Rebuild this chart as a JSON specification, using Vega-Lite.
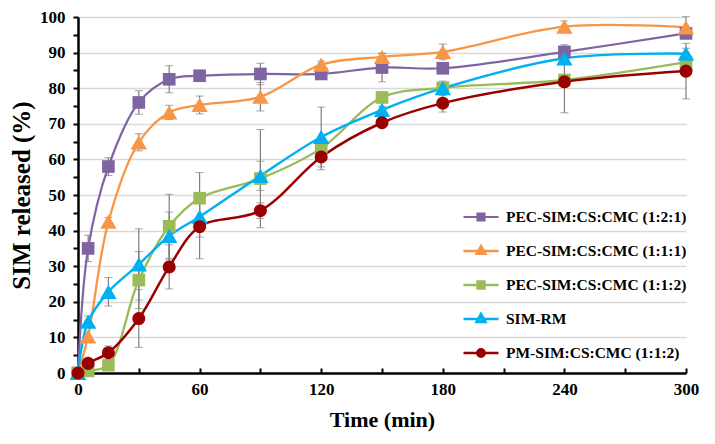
{
  "$schema": "https://vega.github.io/schema/vega-lite/v6.json",
  "width": 608,
  "height": 356,
  "autosize": "none",
  "padding": {"left": 78, "top": 17, "right": 29, "bottom": 71},
  "background": "white",
  "config": {
    "view": {"stroke": null},
    "font": "Liberation Serif",
    "axis": {"labelFont": "Liberation Serif", "titleFont": "Liberation Serif", "labelFontWeight": "bold", "titleFontWeight": "bold", "labelColor": "black", "titleColor": "black", "domainColor": "black", "tickColor": "black"}
  },
  "data": {"values": [
    {"t": 0, "y": 0, "e": 0, "s": "PEC-SIM:CS:CMC (1:2:1)"},
    {"t": 5, "y": 35, "e": 3.7, "s": "PEC-SIM:CS:CMC (1:2:1)"},
    {"t": 15, "y": 58, "e": 2.5, "s": "PEC-SIM:CS:CMC (1:2:1)"},
    {"t": 30, "y": 76, "e": 3.3, "s": "PEC-SIM:CS:CMC (1:2:1)"},
    {"t": 45, "y": 82.5, "e": 3.8, "s": "PEC-SIM:CS:CMC (1:2:1)"},
    {"t": 60, "y": 83.5, "e": 0.8, "s": "PEC-SIM:CS:CMC (1:2:1)"},
    {"t": 90, "y": 84, "e": 3, "s": "PEC-SIM:CS:CMC (1:2:1)"},
    {"t": 120, "y": 84, "e": 1, "s": "PEC-SIM:CS:CMC (1:2:1)"},
    {"t": 150, "y": 85.8, "e": 4, "s": "PEC-SIM:CS:CMC (1:2:1)"},
    {"t": 180, "y": 85.6, "e": 1.5, "s": "PEC-SIM:CS:CMC (1:2:1)"},
    {"t": 240, "y": 90.2, "e": 2, "s": "PEC-SIM:CS:CMC (1:2:1)"},
    {"t": 300, "y": 95.4, "e": 1.5, "s": "PEC-SIM:CS:CMC (1:2:1)"},
    {"t": 0, "y": 0, "e": 0, "s": "PEC-SIM:CS:CMC (1:1:1)"},
    {"t": 5, "y": 10.3, "e": 0, "s": "PEC-SIM:CS:CMC (1:1:1)"},
    {"t": 15, "y": 42.5, "e": 1.2, "s": "PEC-SIM:CS:CMC (1:1:1)"},
    {"t": 30, "y": 64.8, "e": 2.4, "s": "PEC-SIM:CS:CMC (1:1:1)"},
    {"t": 45, "y": 73.2, "e": 2, "s": "PEC-SIM:CS:CMC (1:1:1)"},
    {"t": 60, "y": 75.3, "e": 2.5, "s": "PEC-SIM:CS:CMC (1:1:1)"},
    {"t": 90, "y": 77.6, "e": 4, "s": "PEC-SIM:CS:CMC (1:1:1)"},
    {"t": 120, "y": 86.6, "e": 1, "s": "PEC-SIM:CS:CMC (1:1:1)"},
    {"t": 150, "y": 88.8, "e": 1, "s": "PEC-SIM:CS:CMC (1:1:1)"},
    {"t": 180, "y": 90.2, "e": 2.2, "s": "PEC-SIM:CS:CMC (1:1:1)"},
    {"t": 240, "y": 97.3, "e": 1.6, "s": "PEC-SIM:CS:CMC (1:1:1)"},
    {"t": 300, "y": 97.1, "e": 3, "s": "PEC-SIM:CS:CMC (1:1:1)"},
    {"t": 0, "y": 0, "e": 0, "s": "PEC-SIM:CS:CMC (1:1:2)"},
    {"t": 5, "y": 0.6, "e": 0, "s": "PEC-SIM:CS:CMC (1:1:2)"},
    {"t": 15, "y": 2.2, "e": 1, "s": "PEC-SIM:CS:CMC (1:1:2)"},
    {"t": 30, "y": 26.1, "e": 8, "s": "PEC-SIM:CS:CMC (1:1:2)"},
    {"t": 45, "y": 41.2, "e": 9, "s": "PEC-SIM:CS:CMC (1:1:2)"},
    {"t": 60, "y": 49.1, "e": 7.2, "s": "PEC-SIM:CS:CMC (1:1:2)"},
    {"t": 90, "y": 54.6, "e": 13.8, "s": "PEC-SIM:CS:CMC (1:1:2)"},
    {"t": 120, "y": 63.1, "e": 1, "s": "PEC-SIM:CS:CMC (1:1:2)"},
    {"t": 150, "y": 77.4, "e": 1, "s": "PEC-SIM:CS:CMC (1:1:2)"},
    {"t": 180, "y": 80.1, "e": 1, "s": "PEC-SIM:CS:CMC (1:1:2)"},
    {"t": 240, "y": 82.3, "e": 1, "s": "PEC-SIM:CS:CMC (1:1:2)"},
    {"t": 300, "y": 87.3, "e": 1, "s": "PEC-SIM:CS:CMC (1:1:2)"},
    {"t": 0, "y": 0, "e": 0, "s": "SIM-RM"},
    {"t": 5, "y": 14.4, "e": 1.6, "s": "SIM-RM"},
    {"t": 15, "y": 22.8, "e": 4, "s": "SIM-RM"},
    {"t": 30, "y": 30.5, "e": 10, "s": "SIM-RM"},
    {"t": 45, "y": 38.5, "e": 6.7, "s": "SIM-RM"},
    {"t": 60, "y": 43.9, "e": 5.7, "s": "SIM-RM"},
    {"t": 90, "y": 55.4, "e": 4.1, "s": "SIM-RM"},
    {"t": 120, "y": 66.3, "e": 8.4, "s": "SIM-RM"},
    {"t": 150, "y": 73.9, "e": 1, "s": "SIM-RM"},
    {"t": 180, "y": 80, "e": 2, "s": "SIM-RM"},
    {"t": 240, "y": 88.4, "e": 1.5, "s": "SIM-RM"},
    {"t": 300, "y": 89.7, "e": 1.5, "s": "SIM-RM"},
    {"t": 0, "y": 0, "e": 0, "s": "PM-SIM:CS:CMC (1:1:2)"},
    {"t": 5, "y": 2.7, "e": 0.5, "s": "PM-SIM:CS:CMC (1:1:2)"},
    {"t": 15, "y": 5.7, "e": 1.9, "s": "PM-SIM:CS:CMC (1:1:2)"},
    {"t": 30, "y": 15.3, "e": 8.1, "s": "PM-SIM:CS:CMC (1:1:2)"},
    {"t": 45, "y": 29.8, "e": 6.2, "s": "PM-SIM:CS:CMC (1:1:2)"},
    {"t": 60, "y": 41.1, "e": 9, "s": "PM-SIM:CS:CMC (1:1:2)"},
    {"t": 90, "y": 45.6, "e": 2.2, "s": "PM-SIM:CS:CMC (1:1:2)"},
    {"t": 120, "y": 60.7, "e": 3.6, "s": "PM-SIM:CS:CMC (1:1:2)"},
    {"t": 150, "y": 70.3, "e": 1, "s": "PM-SIM:CS:CMC (1:1:2)"},
    {"t": 180, "y": 75.8, "e": 2.5, "s": "PM-SIM:CS:CMC (1:1:2)"},
    {"t": 240, "y": 81.8, "e": 8.7, "s": "PM-SIM:CS:CMC (1:1:2)"},
    {"t": 300, "y": 84.8, "e": 7.8, "s": "PM-SIM:CS:CMC (1:1:2)"}
  ]},
  "encoding": {
    "x": {
      "field": "t", "type": "quantitative",
      "scale": {"domain": [0, 300], "nice": false},
      "axis": {
        "title": "Time (min)", "titleFontSize": 22, "titlePadding": 12,
        "values": [0, 30, 60, 90, 120, 150, 180, 210, 240, 270, 300],
        "labelExpr": "datum.value % 60 === 0 ? datum.label : ''",
        "labelFontSize": 17, "labelPadding": 13, "tickSize": -5, "tickWidth": 2,
        "domainWidth": 2.5, "grid": false, "labelFlush": false
      }
    },
    "y": {
      "field": "y", "type": "quantitative",
      "scale": {"domain": [0, 100], "nice": false},
      "axis": {
        "title": "SIM released (%)", "titleFontSize": 25, "titlePadding": 5,
        "values": [0, 5, 10, 15, 20, 25, 30, 35, 40, 45, 50, 55, 60, 65, 70, 75, 80, 85, 90, 95, 100],
        "labelExpr": "datum.value % 10 === 0 ? datum.label : ''",
        "labelFontSize": 17, "labelPadding": 8, "tickSize": 5, "tickWidth": 2,
        "domainWidth": 2.5, "grid": true, "gridColor": "#d9d9d9", "gridWidth": 1.5,
        "gridOpacity": {"condition": {"test": "datum.value % 10 === 0 && datum.value > 0", "value": 1}, "value": 0}
      }
    },
    "color": {"field": "s", "type": "nominal",
      "scale": {"domain": ["PEC-SIM:CS:CMC (1:2:1)", "PEC-SIM:CS:CMC (1:1:1)", "PEC-SIM:CS:CMC (1:1:2)", "SIM-RM", "PM-SIM:CS:CMC (1:1:2)"],
                "range": ["#8064a2", "#f79646", "#9bbb59", "#00b0f0", "#990000"]},
      "legend": {
        "title": null, "orient": "none", "legendX": 384, "legendY": 181,
        "symbolSize": 1225, "symbolStrokeWidth": 2.5, "symbolOpacity": 1,
        "symbolType": {"expr": "datum.value === 'SIM-RM' || datum.value === 'PEC-SIM:CS:CMC (1:1:1)' ? 'M-1,0H1M0,-0.3L0.26,0.17H-0.26Z' : datum.value === 'PM-SIM:CS:CMC (1:1:2)' ? 'M-1,0H1M-0.21,0A0.21,0.21,0,1,0,0.21,0A0.21,0.21,0,1,0,-0.21,0Z' : 'M-1,0H1M-0.2,-0.2H0.2V0.2H-0.2Z'"},
        "symbolStrokeColor": {"expr": "scale('color', datum.value)"},
        "labelFont": "Liberation Serif", "labelFontWeight": "bold", "labelFontSize": 15.5, "labelColor": "black",
        "labelOffset": 6, "rowPadding": 6, "labelLimit": 400
      }
    }
  },
  "layer": [
    {
      "transform": [{"filter": "datum.e > 0"}],
      "mark": {"type": "errorbar", "ticks": {"size": 8, "color": "#7f7f7f", "strokeWidth": 1.2}, "rule": {"color": "#7f7f7f", "strokeWidth": 1.2}},
      "encoding": {
        "y": {"field": "y", "type": "quantitative"},
        "yError": {"field": "e"},
        "color": {"value": "#7f7f7f"},
        "detail": {"field": "s"}
      }
    },
    {
      "mark": {"type": "line", "interpolate": "catmull-rom"},
      "encoding": {
        "strokeWidth": {"field": "s", "type": "nominal", "legend": null,
          "scale": {"domain": ["PEC-SIM:CS:CMC (1:2:1)", "PEC-SIM:CS:CMC (1:1:1)", "PEC-SIM:CS:CMC (1:1:2)", "SIM-RM", "PM-SIM:CS:CMC (1:1:2)"],
                    "range": [2.2, 2.5, 2.5, 3.5, 2.5]}}
      }
    },
    {
      "transform": [{"filter": "datum.s === 'PEC-SIM:CS:CMC (1:2:1)' || datum.s === 'PEC-SIM:CS:CMC (1:1:2)'"}],
      "mark": {"type": "point", "filled": true, "opacity": 1, "shape": "square", "size": 160}
    },
    {
      "transform": [{"filter": "datum.s === 'PEC-SIM:CS:CMC (1:1:1)' || datum.s === 'SIM-RM'"}],
      "mark": {"type": "point", "filled": true, "opacity": 1, "shape": "triangle-up", "size": 270}
    },
    {
      "transform": [{"filter": "datum.s === 'PM-SIM:CS:CMC (1:1:2)'"}],
      "mark": {"type": "point", "filled": true, "opacity": 1, "shape": "circle", "size": 170}
    }
  ]
}
